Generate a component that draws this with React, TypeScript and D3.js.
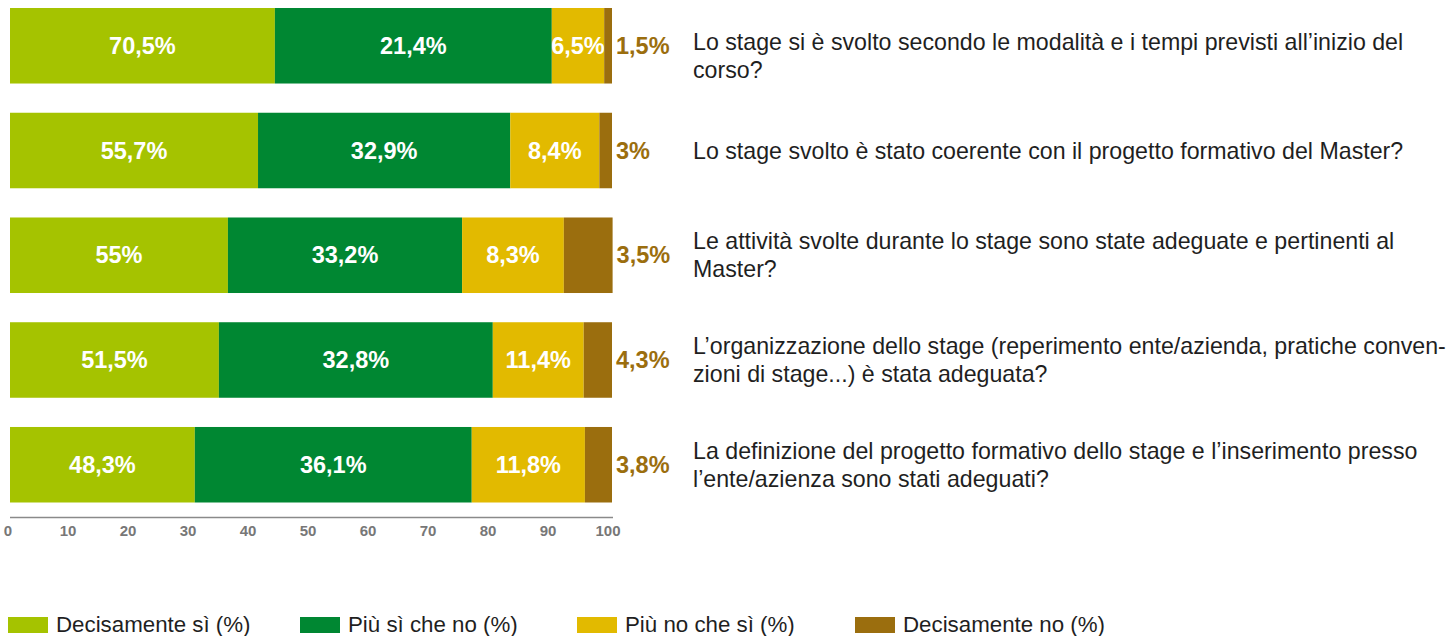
import React from "react";
import * as d3 from "d3";

const rows = ["q1", "q2", "q3", "q4", "q5"];
const seriesNames = ["Decisamente sì (%)", "Più sì che no (%)", "Più no che sì (%)", "Decisamente no (%)"];
const seriesColors = ["#a5c300", "#008732", "#e2ba00", "#9b6e0e"];

// bar lengths as drawn in the picture (axis units)
const decisamenteSi = [44.0, 41.2, 36.2, 34.7, 30.7];
const piuSiCheNo = [46.0, 41.9, 38.9, 45.5, 46.0];
const piuNoCheSi = [8.7, 14.8, 16.9, 15.1, 18.8];
const decisamenteNo = [1.3, 2.1, 8.1, 4.7, 4.5];

// printed labels
const labelDecisamenteSi = ["70,5%", "55,7%", "55%", "51,5%", "48,3%"];
const labelPiuSiCheNo = ["21,4%", "32,9%", "33,2%", "32,8%", "36,1%"];
const labelPiuNoCheSi = ["6,5%", "8,4%", "8,3%", "11,4%", "11,8%"];
const labelDecisamenteNo = ["1,5%", "3%", "3,5%", "4,3%", "3,8%"];

const ticks = [0, 10, 20, 30, 40, 50, 60, 70, 80, 90, 100];

const questions = [
  ["Lo stage si è svolto secondo le modalità e i tempi previsti all’inizio del", "corso?"],
  ["Lo stage svolto è stato coerente con il progetto formativo del Master?"],
  ["Le attività svolte durante lo stage sono state adeguate e pertinenti al", "Master?"],
  ["L’organizzazione dello stage (reperimento ente/azienda, pratiche conven-", "zioni di stage...) è stata adeguata?"],
  ["La definizione del progetto formativo dello stage e l’inserimento presso", "l’ente/azienza sono stati adeguati?"],
];

const FONT = "'Liberation Sans', Arial, Helvetica, sans-serif";

export default function App() {
  React.useEffect(() => {
    document.body.style.margin = "0";
  }, []);

  const W = 1447;
  const H = 636;
  const xAxis = d3.scaleLinear().domain([0, 100]).range([8, 608]);
  const xBar = d3.scaleLinear().domain([0, 100]).range([10, 612]);
  const y = d3.scaleBand<string>().domain(rows).range([8, 502.5]).paddingInner(0.279).paddingOuter(0);

  const values = [decisamenteSi, piuSiCheNo, piuNoCheSi, decisamenteNo];
  const labels = [labelDecisamenteSi, labelPiuSiCheNo, labelPiuNoCheSi, labelDecisamenteNo];

  const table = rows.map((r, i) => {
    const obj: any = { row: r };
    seriesNames.forEach((s, k) => (obj[s] = values[k][i]));
    return obj;
  });
  const stacked = d3.stack<any>().keys(seriesNames)(table);

  const lineH = 28;
  const legendX = [8, 300, 577, 855];

  return (
    <svg width={W} height={H} style={{ position: "absolute", left: 0, top: 0, display: "block" }} fontFamily={FONT}>
      <rect width={W} height={H} fill="#ffffff" />
      {stacked.map((layer, k) => (
        <g key={layer.key}>
          {layer.map((d, i) => {
            const x0 = xBar(d[0]);
            const x1 = xBar(d[1]);
            const yy = y(rows[i])!;
            const bw = y.bandwidth();
            const outside = k === 3;
            return (
              <g key={i}>
                <rect x={x0} y={yy} width={x1 - x0} height={bw} fill={seriesColors[k]} />
                <text
                  x={outside ? x1 + 4 : (x0 + x1) / 2}
                  y={yy + bw / 2}
                  dy="0.35em"
                  textAnchor={outside ? "start" : "middle"}
                  fontWeight="bold"
                  fontSize={23.5}
                  fill={outside ? "#9b6e0e" : "#ffffff"}
                >
                  {labels[k][i]}
                </text>
              </g>
            );
          })}
        </g>
      ))}
      {questions.map((lines, i) => {
        const c = y(rows[i])! + y.bandwidth() / 2;
        let base = c - ((lines.length - 1) * lineH) / 2 + 8;
        base = Math.max(base, 50);
        return (
          <text key={i} fontSize={23.2} fill="#1f1f1f">
            {lines.map((l, j) => (
              <tspan key={j} x={693} y={base + j * lineH}>
                {l}
              </tspan>
            ))}
          </text>
        );
      })}
      <line x1={10} x2={613} y1={517.5} y2={517.5} stroke="#8a8a8a" strokeWidth={1.5} />
      {ticks.map((t) => (
        <text key={t} x={xAxis(t)} y={535.5} textAnchor="middle" fontSize={15} fontWeight="bold" fill="#777777">
          {t}
        </text>
      ))}
      {seriesNames.map((s, k) => (
        <g key={s}>
          <rect x={legendX[k]} y={617} width={40} height={16} fill={seriesColors[k]} />
          <text x={legendX[k] + 48} y={632} fontSize={22.3} fill="#1f1f1f">
            {s}
          </text>
        </g>
      ))}
    </svg>
  );
}
